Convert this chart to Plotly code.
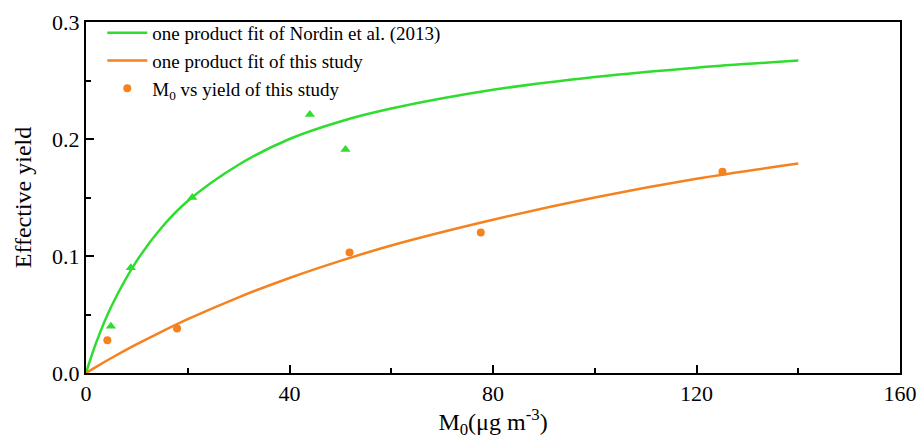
import plotly.graph_objects as go

# Fit curves
fit_x = [0, 2, 5, 10, 15, 20, 30, 40, 50, 60, 80, 100, 120, 140]
nordin_fit = [0, 0.026, 0.057, 0.096, 0.125, 0.147, 0.178, 0.200, 0.215, 0.226, 0.242, 0.253, 0.261, 0.267]
study_fit = [0, 0.0053, 0.0128, 0.0246, 0.0356, 0.046, 0.0647, 0.0812, 0.0958, 0.109, 0.131, 0.150, 0.166, 0.179]

# Measured points
nordin_x = [4.9, 8.8, 20.9, 44.0, 51.0]
nordin_y = [0.040, 0.090, 0.150, 0.221, 0.191]
study_x = [4.2, 17.9, 51.8, 77.6, 125.1]
study_y = [0.028, 0.038, 0.103, 0.120, 0.172]

x_ticks = [0, 40, 80, 120, 160]
y_ticks = [0.0, 0.1, 0.2, 0.3]

GREEN = "#2fdc2f"
ORANGE = "#f5821f"
FONT = "Liberation Serif"

fig = go.Figure()
fig.add_trace(go.Scatter(x=fit_x, y=nordin_fit, mode="lines", line=dict(color=GREEN, width=2.5, shape="spline"),
                         name="one product fit of Nordin et al. (2013)"))
fig.add_trace(go.Scatter(x=fit_x, y=study_fit, mode="lines", line=dict(color=ORANGE, width=2.5, shape="spline"),
                         name="one product fit of this study"))
fig.add_trace(go.Scatter(x=study_x, y=study_y, mode="markers", marker=dict(color=ORANGE, size=8, symbol="circle"),
                         name="M<sub>0</sub> vs yield of this study"))
fig.add_trace(go.Scatter(x=nordin_x, y=nordin_y, mode="markers", marker=dict(color=GREEN, size=9, symbol="triangle-up"),
                         showlegend=False))

axis_common = dict(showline=True, linecolor="black", linewidth=2, mirror=True, showgrid=False, zeroline=False,
                   ticks="inside", tickcolor="black", tickwidth=2, ticklen=8, automargin=False,
                   tickfont=dict(family=FONT, size=22, color="black"))

fig.update_xaxes(range=[0, 160], tickvals=x_ticks, ticktext=[str(v) for v in x_ticks],
                 minor=dict(ticks="inside", dtick=20, ticklen=5, tickwidth=2, tickcolor="black"),
                 title=dict(text="M<sub>0</sub>(μg m<sup>-3</sup>)", font=dict(family=FONT, size=24, color="black"), standoff=9),
                 **axis_common)
fig.update_yaxes(range=[0, 0.3], tickvals=y_ticks, ticktext=[f"{v:.1f}" for v in y_ticks],
                 minor=dict(ticks="inside", dtick=0.05, ticklen=5, tickwidth=2, tickcolor="black"),
                 title=dict(text="Effective yield", font=dict(family=FONT, size=24, color="black"), standoff=14),
                 **axis_common)

fig.update_layout(
    width=917, height=439,
    margin=dict(l=86, r=17, t=22, b=66, autoexpand=False),
    paper_bgcolor="white", plot_bgcolor="white",
    font=dict(family=FONT, color="black"),
    legend=dict(x=0.02, y=1.023, xanchor="left", yanchor="top", bgcolor="rgba(0,0,0,0)",
                font=dict(family=FONT, size=19, color="black"), tracegroupgap=0, itemwidth=40),
    showlegend=True,
)

fig.write_html("out.html", config={"displayModeBar": False},
               post_script="document.body.style.margin='0';")
